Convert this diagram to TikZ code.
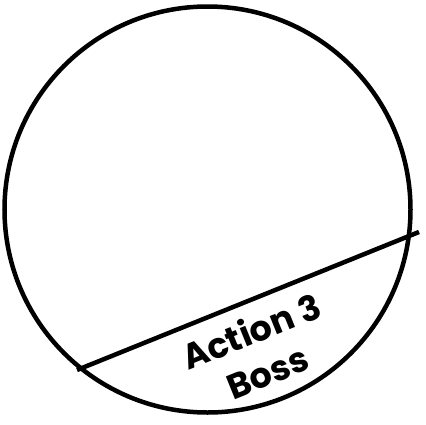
\documentclass[tikz,border=0pt]{standalone}
\usepackage{fontspec}
\setmainfont{Poppins}
\begin{document}
\begin{tikzpicture}[x=1pt,y=-1pt,
  ring/.style={draw=black,line width=4.5pt},
  chord/.style={draw=black,line width=4.5pt},
  lbl/.style={font=\fontsize{35}{44}\selectfont\bfseries,align=center,rotate=22,inner sep=0pt}]
\useasboundingbox (0,0) rectangle (426,424);
\node[circle,ring,minimum size=406pt,inner sep=0pt] (c) at (207.5,209.5) {};
\coordinate (a) at (77,370);
\coordinate (b) at (419,232);
\draw[chord] (a) -- (b);
\node[lbl] (t) at (259,351) {Action 3\\Boss};
\end{tikzpicture}
\end{document}
